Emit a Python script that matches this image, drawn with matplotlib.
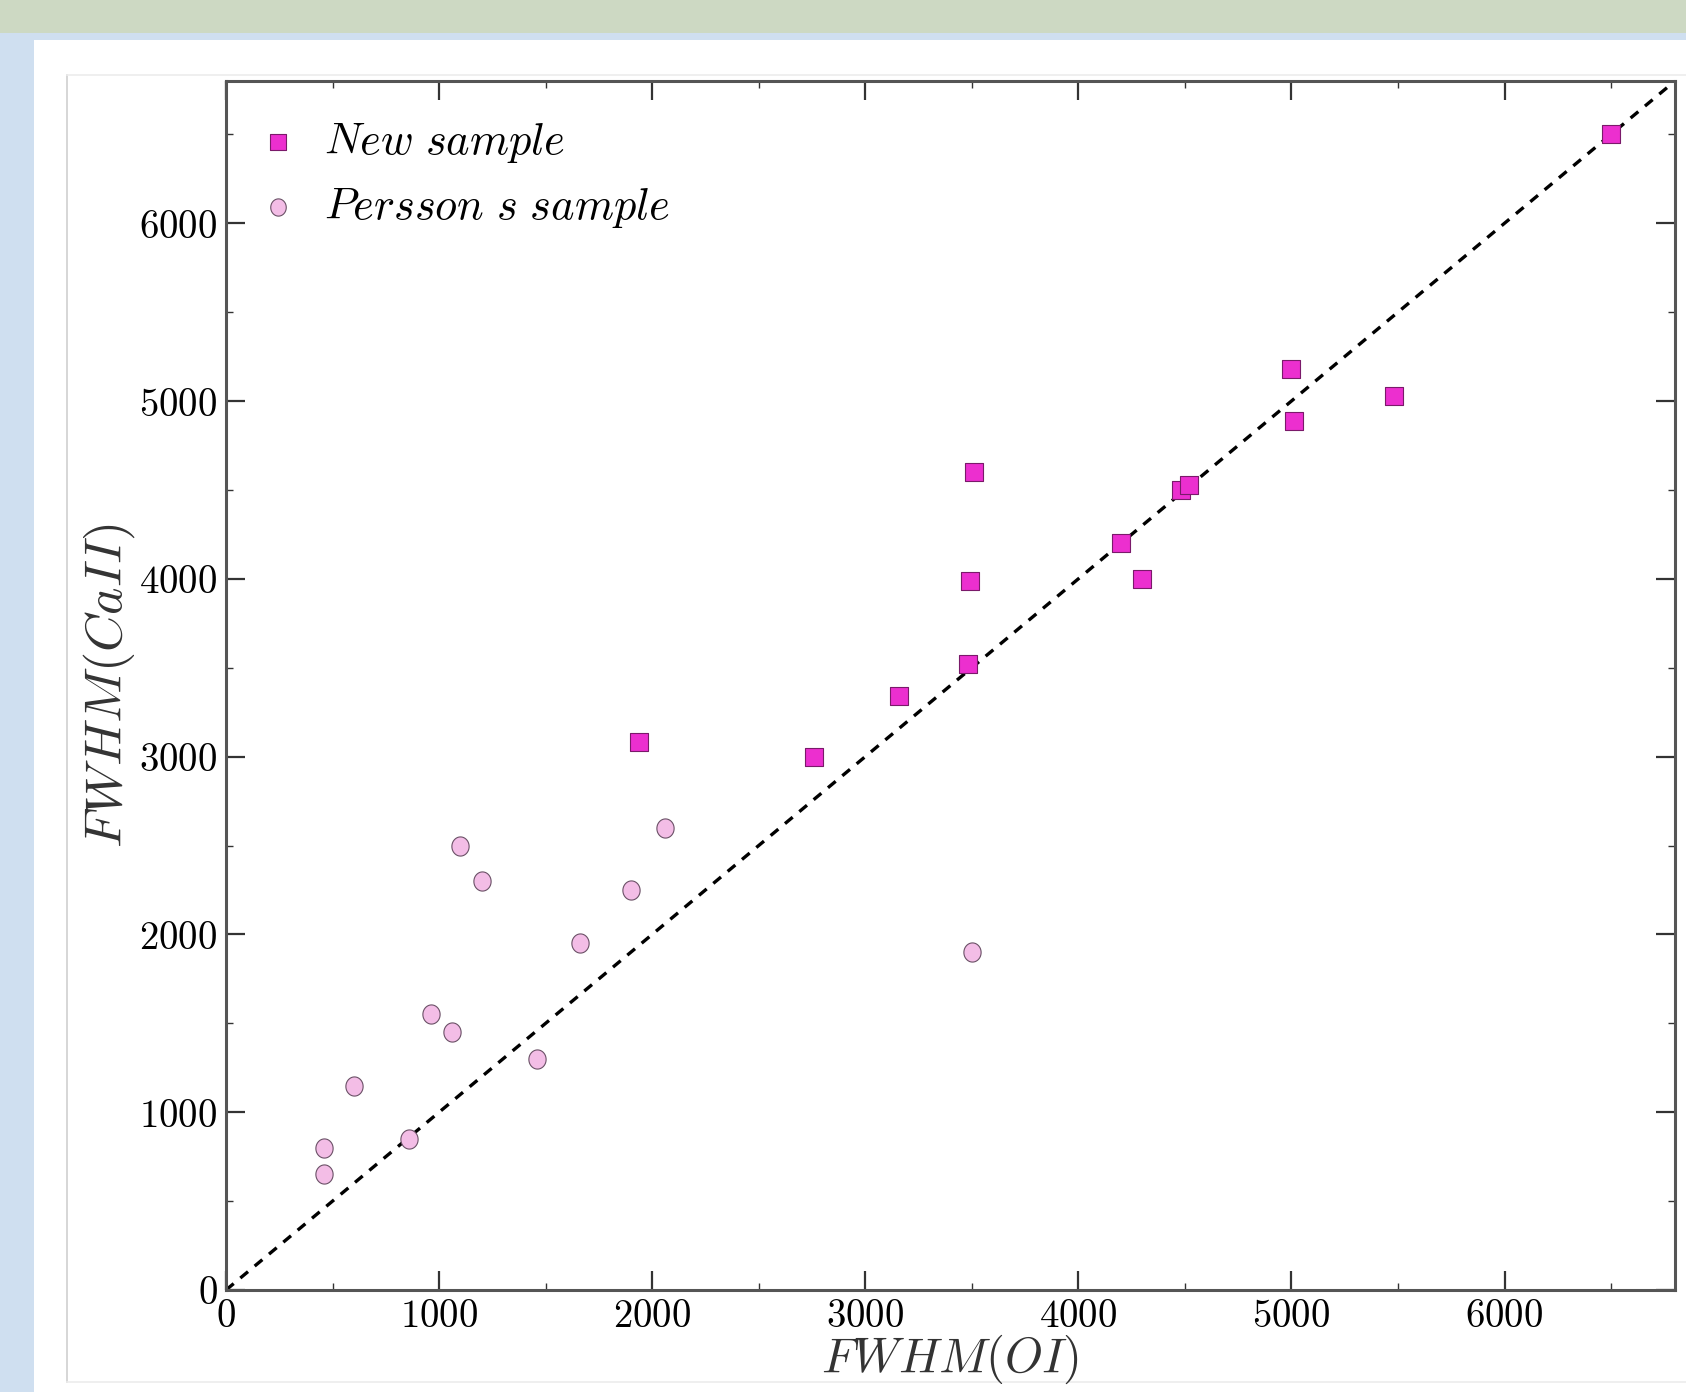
import matplotlib
matplotlib.use("Agg")
import matplotlib.pyplot as plt
from matplotlib.patches import Rectangle
from matplotlib.lines import Line2D
from matplotlib.path import Path
from matplotlib.ticker import MultipleLocator, FuncFormatter
import numpy as np

plt.rcParams['mathtext.fontset'] = 'cm'
plt.rcParams['font.family'] = ['DejaVu Serif']

# Data
new_x = [6500, 5000, 5010, 5480, 3510, 4480, 4520, 4200, 4300, 3490, 3480, 3160, 2760, 1940]
new_y = [6500, 5180, 4890, 5030, 4600, 4500, 4530, 4200, 4000, 3990, 3520, 3340, 3000, 3080]
per_x = [460, 460, 600, 860, 960, 1060, 1100, 1200, 1460, 1660, 1900, 2060, 3500]
per_y = [800, 650, 1150, 850, 1550, 1450, 2500, 2300, 1300, 1950, 2250, 2600, 1900]
legend_labels = [r'$New\ sample$', r'$Persson\ s\ sample$']
xlabel = r'$FWHM(OI)$'
ylabel = r'$FWHM(CaII)$'

W, H = 1686, 1392
fig = plt.figure(figsize=(W / 100, H / 100), dpi=100)
fig.patch.set_facecolor('#cfdff0')

def px_rect(x0, y0, x1, y1, **kw):
    fig.patches.append(Rectangle((x0 / W, 1 - y1 / H), (x1 - x0) / W, (y1 - y0) / H,
                                 transform=fig.transFigure, zorder=-10, **kw))

def px_line(xs, ys, **kw):
    fig.lines.append(Line2D([x / W for x in xs], [1 - y / H for y in ys],
                            transform=fig.transFigure, zorder=-5, **kw))

# slide background pieces
px_rect(0, 0, W, 33, facecolor='#cdd9c3', edgecolor='none')
px_rect(34, 40, W, H, facecolor='white', edgecolor='none')
# picture frame
px_line([67, 67], [75, 1382], color='#d0d0d0', lw=1.2)
px_line([67, W], [75, 75], color='#ececec', lw=1.2)
px_line([67, W], [1382, 1382], color='#ececec', lw=1.2)

# slightly tall ellipse marker (the source image is stretched vertically)
t = np.linspace(0, 2 * np.pi, 60)
ell = Path(np.column_stack([0.9 * np.cos(t), 1.0 * np.sin(t)]), closed=True)

ax = fig.add_axes([226 / W, 1 - 1290 / H, (1675 - 226) / W, (1290 - 81) / H])
ax.set_xlim(0, 6800)
ax.set_ylim(0, 6800)

ax.plot([0, 6800], [0, 6800], ls=(0, (3, 2.6)), color='black', lw=2.4, zorder=1)
ax.scatter(new_x, new_y, marker='s', s=160, facecolor='#ec2fcf', edgecolor='#7a1a6a',
           linewidth=0.8, zorder=3, label=legend_labels[0])
ax.scatter(per_x, per_y, marker=ell, s=190, facecolor='#f3bde6', edgecolor='#6a5066',
           linewidth=0.8, zorder=3, label=legend_labels[1])

for s in ax.spines.values():
    s.set_color('#555555')
    s.set_linewidth(2.2)

ax.xaxis.set_major_locator(MultipleLocator(1000))
ax.yaxis.set_major_locator(MultipleLocator(1000))
ax.xaxis.set_minor_locator(MultipleLocator(500))
ax.yaxis.set_minor_locator(MultipleLocator(500))
fmt = FuncFormatter(lambda v, p: r'$%d$' % int(round(v)))
ax.xaxis.set_major_formatter(fmt)
ax.yaxis.set_major_formatter(fmt)
ax.tick_params(which='both', direction='in', top=True, right=True, color='#333333')
ax.tick_params(which='major', length=14, width=1.6, labelsize=28, pad=6)
ax.tick_params(which='minor', length=5, width=1.0)

ax.set_xlabel(xlabel, fontsize=35, labelpad=-2, color='#333333')
ax.set_ylabel(ylabel, fontsize=37.5, labelpad=2, color='#333333')

leg = ax.legend(loc='upper left', bbox_to_anchor=(0.008, 0.983), borderaxespad=0,
                frameon=False, fontsize=32, handlelength=1.0, handletextpad=0.55,
                labelspacing=0.45, markerscale=0.9)

fig.savefig('out.png', dpi=100)
